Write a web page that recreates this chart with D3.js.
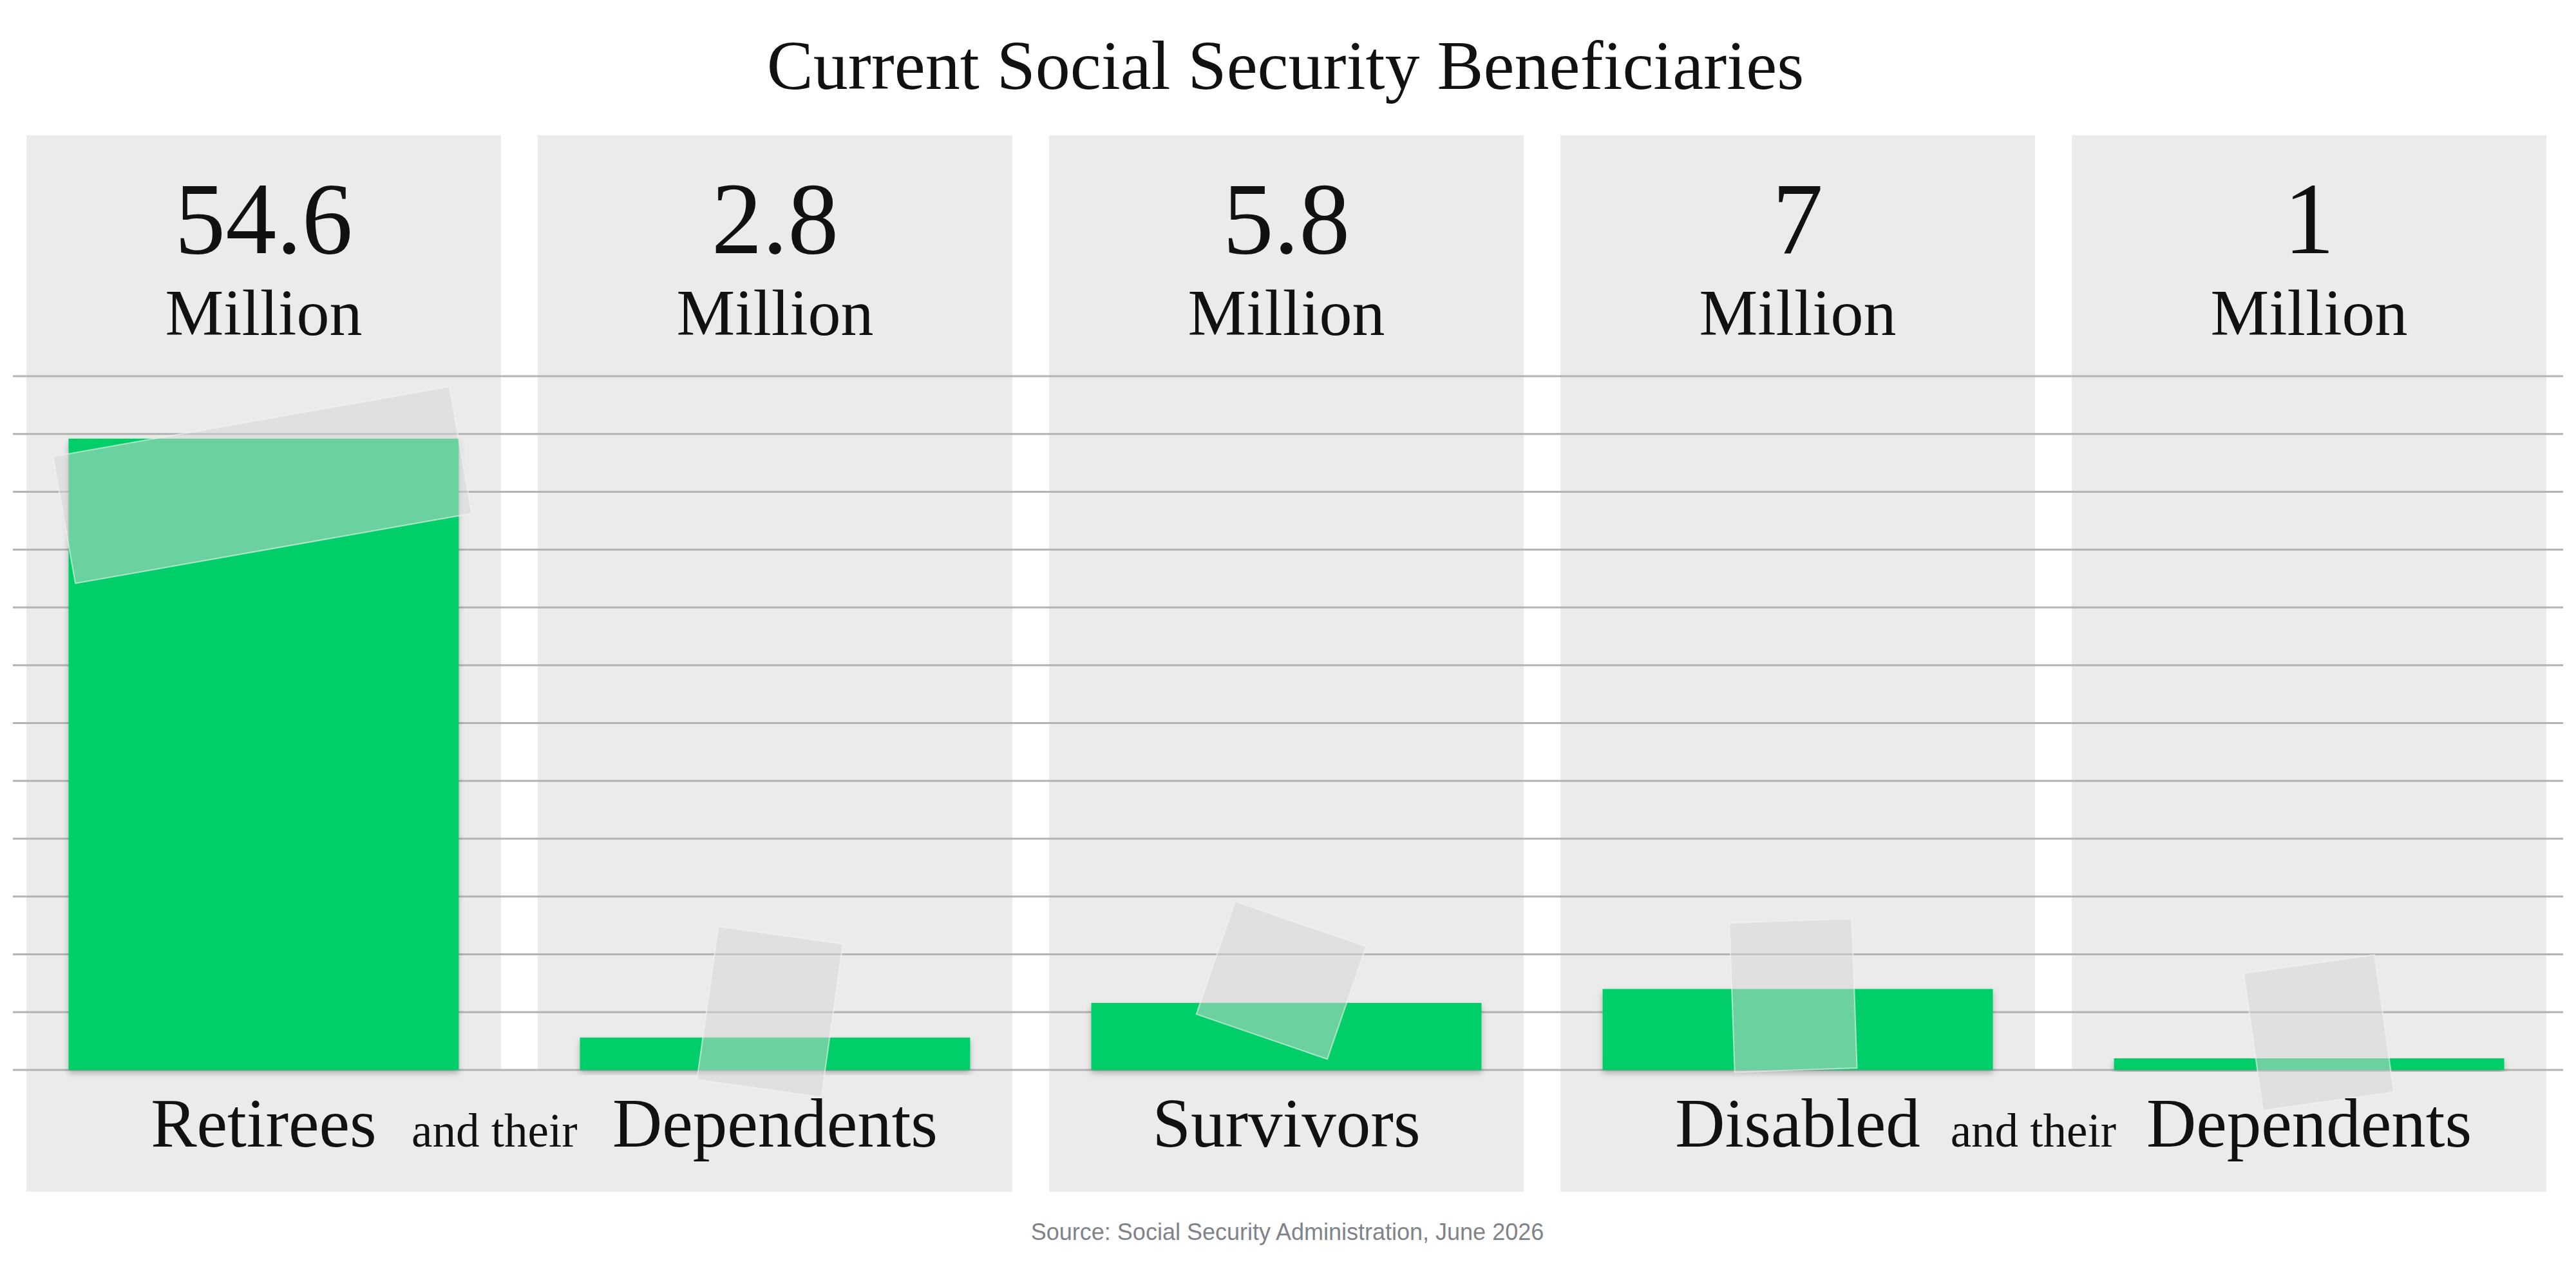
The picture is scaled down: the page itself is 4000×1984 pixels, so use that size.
<!DOCTYPE html>
<html>
<head>
<meta charset="utf-8">
<script src="https://cdn.jsdelivr.net/npm/d3@7"></script>
<style>
  body { margin: 0; background: #fff; }
  svg { display: block; }
</style>
</head>
<body>
<div id="wrapper"></div>
<script>
// data
const categories = ["retirees", "retireeDependents", "survivors", "disabled", "disabledDependents"]
const labels = ["Retirees", "Dependents", "Survivors", "Disabled", "Dependents"]
const values = [54.6, 2.8, 5.8, 7, 1]
const valueLabels = ["54.6", "2.8", "5.8", "7", "1"]
const unitLabel = "Million"
const labelGroups = [[0, 1], [2], [3, 4]]
const connectorText = "and their"
const yTicks = [0, 5, 10, 15, 20, 25, 30, 35, 40, 45, 50, 55, 60]
const title = "Current Social Security Beneficiaries"
const source = "Source: Social Security Administration, June 2026"

const width = 4000, height = 1984
const serif = "'Liberation Serif', 'DejaVu Serif', serif"

const svg = d3.select("#wrapper")
    .append("svg")
    .attr("width", width)
    .attr("height", height)

// drop shadow for the paper bars
const defs = svg.append("defs")
defs.append("filter")
    .attr("id", "shadow")
    .attr("x", "-5%").attr("y", "-5%").attr("width", "110%").attr("height", "120%")
    .append("feDropShadow")
    .attr("dx", 0).attr("dy", 5)
    .attr("stdDeviation", 5)
    .attr("flood-color", "#000")
    .attr("flood-opacity", 0.25)

// scales
const x = d3.scaleBand()
    .domain(categories)
    .range([41, 3954])
    .paddingInner(0.072)
    .paddingOuter(0)

const y = d3.scaleLinear()
    .domain([0, 60])
    .range([1661, 584])

const panelTop = 210, panelBottom = 1850
const barWidth = 606

// panels (upper part, one per category)
svg.append("g")
    .selectAll("rect")
    .data(categories)
    .join("rect")
    .attr("x", d => x(d))
    .attr("y", panelTop)
    .attr("width", x.bandwidth())
    .attr("height", y(0) - panelTop)
    .attr("fill", "#ebebeb")

// panels (lower part, merged per label group)
svg.append("g")
    .selectAll("rect")
    .data(labelGroups)
    .join("rect")
    .attr("x", g => x(categories[g[0]]))
    .attr("y", y(0))
    .attr("width", g => x(categories[g[g.length - 1]]) + x.bandwidth() - x(categories[g[0]]))
    .attr("height", panelBottom - y(0))
    .attr("fill", "#ebebeb")

// gridlines
svg.append("g")
    .selectAll("line")
    .data(yTicks)
    .join("line")
    .attr("x1", 20)
    .attr("x2", 3980)
    .attr("y1", d => y(d))
    .attr("y2", d => y(d))
    .attr("stroke", "#b3b3b3")
    .attr("stroke-width", 3)

// bars
svg.append("g")
    .selectAll("rect")
    .data(values)
    .join("rect")
    .attr("x", (d, i) => x(categories[i]) + x.bandwidth() / 2 - barWidth / 2)
    .attr("y", d => y(d))
    .attr("width", barWidth)
    .attr("height", d => y(0) - y(d))
    .attr("fill", "#02cf69")
    .attr("filter", "url(#shadow)")

// tape pieces holding the bars (offsets from the bar top centre)
const tapes = [
    {dx: -2, dy: 72, w: 625, h: 200, angle: -10},
    {dx: -8, dy: -40, w: 195, h: 240, angle: 8},
    {dx: -8, dy: -35, w: 215, h: 185, angle: 19},
    {dx: -7, dy: 10, w: 190, h: 232, angle: -2},
    {dx: 15, dy: -40, w: 205, h: 215, angle: -8}
]
svg.append("g")
    .selectAll("rect")
    .data(tapes)
    .join("rect")
    .attr("transform", (t, i) => {
        const cx = x(categories[i]) + x.bandwidth() / 2 + t.dx
        const cy = y(values[i]) + t.dy
        return `translate(${cx},${cy}) rotate(${t.angle})`
    })
    .attr("x", t => -t.w / 2)
    .attr("y", t => -t.h / 2)
    .attr("width", t => t.w)
    .attr("height", t => t.h)
    .attr("fill", "#d6d6d6")
    .attr("fill-opacity", 0.5)
    .attr("stroke", "#f4f4f4")
    .attr("stroke-opacity", 0.6)
    .attr("stroke-width", 2)

// title
svg.append("text")
    .attr("x", 1996)
    .attr("y", 138)
    .attr("text-anchor", "middle")
    .style("font-family", serif)
    .style("font-size", "108px")
    .attr("fill", "#111")
    .text(title)

// value labels
const valueGroup = svg.append("g")
    .selectAll("g")
    .data(valueLabels)
    .join("g")
    .attr("transform", (d, i) => `translate(${x(categories[i]) + x.bandwidth() / 2},0)`)
valueGroup.append("text")
    .attr("y", 393)
    .attr("text-anchor", "middle")
    .style("font-family", serif)
    .style("font-size", "158px")
    .attr("fill", "#111")
    .text(d => d)
valueGroup.append("text")
    .attr("y", 520)
    .attr("text-anchor", "middle")
    .style("font-family", serif)
    .style("font-size", "102px")
    .attr("fill", "#111")
    .text(unitLabel)

// category labels under the baseline
const catText = svg.append("g")
    .selectAll("text")
    .data(labels)
    .join("text")
    .attr("x", (d, i) => x(categories[i]) + x.bandwidth() / 2)
    .attr("y", 1780)
    .attr("text-anchor", "middle")
    .style("font-family", serif)
    .style("font-size", "107px")
    .attr("fill", "#111")
    .text(d => d)

// "and their" between the words of a merged group
const nodes = catText.nodes()
svg.append("g")
    .selectAll("text")
    .data(labelGroups.filter(g => g.length > 1))
    .join("text")
    .attr("x", g => {
        const a = nodes[g[0]], b = nodes[g[1]]
        const aEnd = +a.getAttribute("x") + a.getComputedTextLength() / 2
        const bStart = +b.getAttribute("x") - b.getComputedTextLength() / 2
        return (aEnd + bStart) / 2
    })
    .attr("y", 1780)
    .attr("text-anchor", "middle")
    .style("font-family", serif)
    .style("font-size", "73px")
    .attr("fill", "#111")
    .text(connectorText)

// source
svg.append("text")
    .attr("x", 1999)
    .attr("y", 1925)
    .attr("text-anchor", "middle")
    .style("font-family", "'Liberation Sans', Arial, sans-serif")
    .style("font-size", "36px")
    .attr("fill", "#80838a")
    .text(source)
</script>
</body>
</html>
